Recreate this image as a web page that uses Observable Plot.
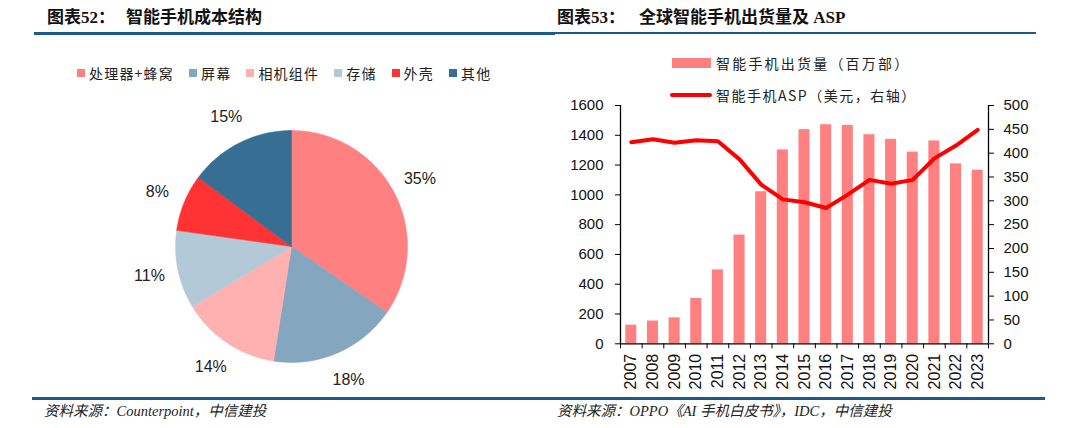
<!DOCTYPE html>
<html><head><meta charset="utf-8">
<script src="https://cdn.jsdelivr.net/npm/d3@7"></script>
<script src="https://cdn.jsdelivr.net/npm/@observablehq/plot@0.6"></script>
<style>
body{margin:0;background:#fff;width:1080px;height:428px;position:relative;overflow:hidden;font-family:"Noto Sans CJK SC",sans-serif;color:#111;}
.abs{position:absolute;white-space:nowrap;}
.title{font-family:"Liberation Serif","Noto Sans CJK SC",serif;font-weight:bold;font-size:17px;line-height:22px;top:7px;color:#111;}
.rule{position:absolute;background:#1d5a8c;}
.src{font-family:"Liberation Serif","Noto Sans CJK SC",serif;font-style:italic;font-weight:400;font-size:14.5px;line-height:18px;top:402px;color:#222;}
.leg{font-size:14px;letter-spacing:1.2px;line-height:20px;color:#222;display:flex;align-items:center;}
.leg .it{display:flex;align-items:center;margin-right:15px;}
.leg .sw{width:8px;height:8px;margin-right:4px;}
.rleg{font-size:14px;letter-spacing:1.5px;line-height:20px;color:#222;}
</style>
</head><body>
<div class="abs title" style="left:47px">图表52：</div>
<div class="abs title" style="left:126px">智能手机成本结构</div>
<div class="abs title" style="left:557px">图表53：</div>
<div class="abs title" style="left:639px">全球智能手机出货量及 ASP</div>
<div class="rule" style="left:34px;top:32px;width:521px;height:3px"></div>
<div class="rule" style="left:555px;top:32px;width:481px;height:2px"></div>
<div class="rule" style="left:32px;top:397px;width:1013px;height:2.5px"></div>
<div class="abs src" style="left:44px">资料来源：Counterpoint，中信建投</div>
<div class="abs src" style="left:557px">资料来源：OPPO《AI 手机白皮书》，IDC，中信建投</div>
<div id="pieLegend" class="abs leg" style="left:77px;top:63px"></div>
<div id="pie" class="abs" style="left:131px;top:86px"></div>
<div id="combo" class="abs" style="left:555px;top:95px"></div>
<div id="rLegend" class="abs" style="left:0;top:0"></div>
<script>
// ---- Pie data ----
const pieCategories = ["处理器+蜂窝", "屏幕", "相机组件", "存储", "外壳", "其他"];
const pieShares = [35, 18, 14, 11, 8, 15];
const pieColors = ["#FF8080", "#84A6BE", "#FFB1B1", "#B4C9D7", "#FF3333", "#376F94"];

// ---- Combo data ----
const years = [2007, 2008, 2009, 2010, 2011, 2012, 2013, 2014, 2015, 2016, 2017, 2018, 2019, 2020, 2021, 2022, 2023];
const shipments = [125, 153, 174, 305, 496, 730, 1021, 1302, 1438, 1471, 1466, 1404, 1373, 1287, 1362, 1208, 1166];
const asp = [423, 429, 422, 427, 425, 387, 334, 303, 297, 285, 313, 344, 336, 344, 389, 416, 449];
const leftTicks = [0, 200, 400, 600, 800, 1000, 1200, 1400, 1600];
const rightTicks = [0, 50, 100, 150, 200, 250, 300, 350, 400, 450, 500];
const seriesNames = ["智能手机出货量（百万部）", "智能手机ASP（美元，右轴）"];
const barColor = "#FF8080";
const lineColor = "#FF0000";

// ---- Pie legend ----
const pl = document.getElementById("pieLegend");
pieCategories.forEach((c, i) => {
  const it = document.createElement("div"); it.className = "it";
  const sw = document.createElement("div"); sw.className = "sw"; sw.style.background = pieColors[i];
  const tx = document.createElement("span"); tx.textContent = c;
  it.appendChild(sw); it.appendChild(tx); pl.appendChild(it);
});

// ---- Pie chart ----
const pieData = pieCategories.map((c, i) => ({cat: c, share: pieShares[i]}));
const arcs = d3.pie().sort(null).value(d => d.share)(pieData);
const slicePts = arcs.flatMap(a => {
  const n = Math.max(2, Math.ceil((a.endAngle - a.startAngle) / 0.01));
  const pts = [{cat: a.data.cat, x: 0, y: 0}];
  for (let i = 0; i <= n; i++) {
    const t = a.startAngle + (a.endAngle - a.startAngle) * i / n;
    pts.push({cat: a.data.cat, x: Math.sin(t), y: Math.cos(t)});
  }
  pts.push({cat: a.data.cat, x: 0, y: 0});
  return pts;
});
const pieLabels = arcs.map(a => {
  const m = (a.startAngle + a.endAngle) / 2;
  return {x: 1.25 * Math.sin(m), y: 1.25 * Math.cos(m), text: a.data.share + "%"};
});
const pieChart = Plot.plot({
  width: 320, height: 320, margin: 0,
  x: {domain: [-1.38, 1.38], axis: null},
  y: {domain: [-1.38, 1.38], axis: null},
  color: {domain: pieCategories, range: pieColors},
  style: {fontFamily: "'Liberation Sans', Arial, sans-serif", background: "transparent", overflow: "visible"},
  marks: [
    Plot.line(slicePts, {x: "x", y: "y", z: "cat", fill: "cat", stroke: "cat", strokeWidth: 0.6}),
    Plot.text(pieLabels, {x: "x", y: "y", text: "text", fontSize: 16, fill: "#222"})
  ]
});
document.getElementById("pie").appendChild(pieChart);

// ---- Combo chart ----
const bars = years.map((y, i) => ({year: y, ship: shipments[i], asp: asp[i]}));
const boundaries = years.concat([years[years.length - 1] + 1]);
const ratio = leftTicks[leftTicks.length - 1] / rightTicks[rightTicks.length - 1];
const combo = Plot.plot({
  width: 495, height: 300, marginLeft: 65, marginRight: 62, marginTop: 10, marginBottom: 51.7,
  x: {domain: [years[0], years[years.length - 1] + 1], axis: null},
  y: {domain: [0, 1600], axis: null},
  style: {fontFamily: "'Liberation Sans', Arial, sans-serif", fontSize: "15px", color: "#111", background: "transparent", overflow: "visible"},
  marks: [
    Plot.rectY(bars, {x1: "year", x2: d => d.year + 1, y: "ship", fill: barColor, insetLeft: 5.3, insetRight: 5.3}),
    Plot.line(bars, {x: d => d.year + 0.5, y: d => d.asp * ratio, stroke: lineColor, strokeWidth: 4, strokeLinecap: "round", strokeLinejoin: "round"}),
    Plot.ruleY([0], {stroke: "#000", strokeWidth: 1.3}),
    Plot.ruleX([boundaries[0], boundaries[boundaries.length - 1]], {y1: 0, y2: 1600, stroke: "#000", strokeWidth: 1.3}),
    Plot.axisY(leftTicks, {anchor: "left", tickSize: 5, tickPadding: 12, tickFormat: d => String(d), label: null, fontSize: 15, stroke: "#000"}),
    Plot.axisY(rightTicks, {anchor: "right", y: d => d * ratio, tickSize: 5, tickPadding: 10, tickFormat: d => String(d), label: null, fontSize: 15, stroke: "#000"}),
    Plot.axisX(boundaries, {anchor: "bottom", tickSize: 5, tickFormat: () => "", label: null, stroke: "#000"}),
    Plot.axisX(years, {anchor: "bottom", x: d => d + 0.5, tickSize: 0, tickPadding: 10, tickRotate: -90, tickFormat: d => String(d), label: null, fontSize: 16})
  ]
});
document.getElementById("combo").appendChild(combo);

// ---- Combo legend ----
const rl = document.getElementById("rLegend");
rl.innerHTML = `
  <div class="abs" style="left:672px;top:58px;width:39px;height:10px;background:${barColor}"></div>
  <div class="abs rleg" style="left:716px;top:53px;letter-spacing:2.2px">${seriesNames[0]}</div>
  <div class="abs" style="left:670px;top:93px;width:42px;height:4px;border-radius:2px;background:${lineColor}"></div>
  <div class="abs rleg" style="left:716px;top:85px">${seriesNames[1]}</div>`;
</script>
</body></html>
